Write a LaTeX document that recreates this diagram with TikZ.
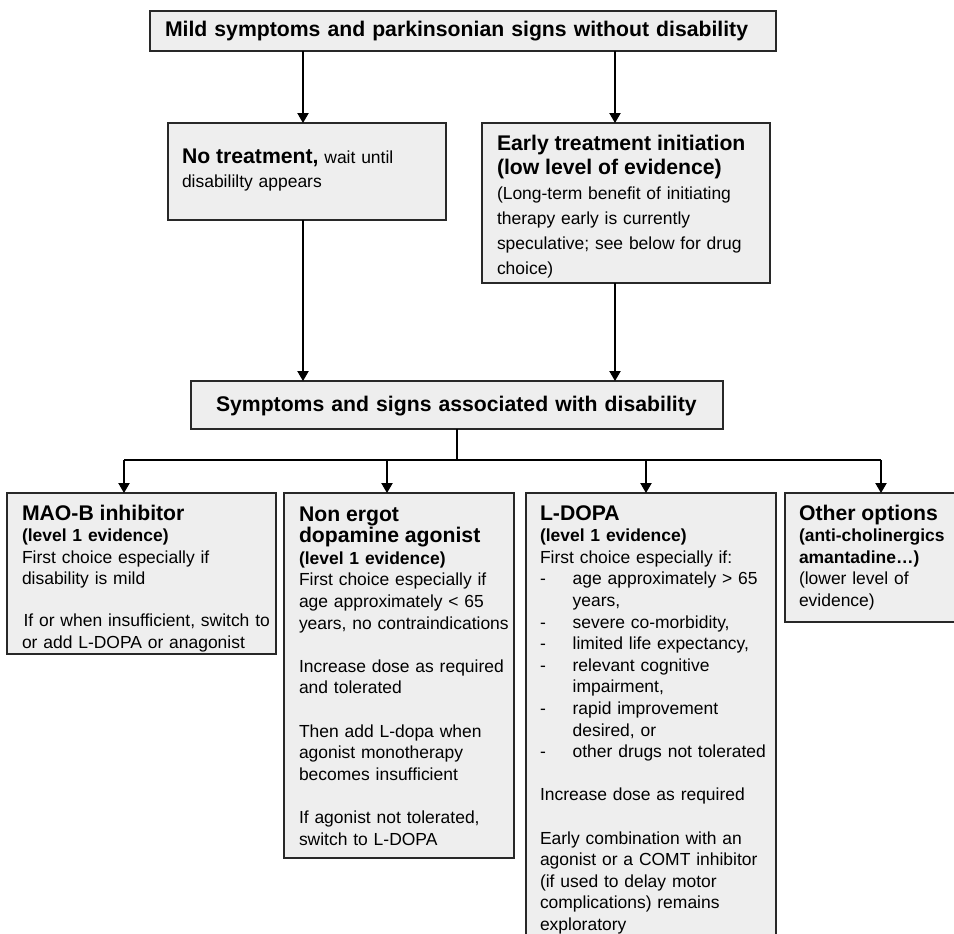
\documentclass[tikz,border=0pt]{standalone}
\usepackage{fontspec}
\setmainfont{Liberation Sans}
\usetikzlibrary{arrows.meta,fit}
\definecolor{boxfill}{RGB}{238,238,238}
\definecolor{boxline}{RGB}{40,40,40}
% heading type: bold, larger
\newcommand\hd{\fontsize{15.9pt}{16.2pt}\selectfont\bfseries}
% bulleted line and its continuation
\newcommand\itm[1]{\makebox[24.5pt][l]{-}#1}
\newcommand\cnt[1]{\hspace*{24.5pt}#1}
\begin{document}
\begin{tikzpicture}[x=0.75pt,y=-0.75pt,
  box/.style={rectangle,draw=boxline,fill=boxfill,line width=0.9pt,inner sep=0pt,outer sep=0pt},
  txt/.style={anchor=base west,inner sep=0pt,outer sep=0pt,align=left,text width=300pt,
              font=\fontsize{13.1pt}{16.2pt}\selectfont},
  wide/.style={font=\fontsize{13.1pt}{18.6pt}\selectfont},
  link/.style={line width=0.8pt,draw=black},
  arr/.style={link,-{Triangle[length=7.5pt,width=8.5pt]}}]
\useasboundingbox (0,0) rectangle (954,933);
\clip (0,0) rectangle (954,933);
\fill[white] (0,0) rectangle (954,933);

% ---- boxes ----
\node[box,fit={(150,11) (776,51)}] (mild) {};
\node[box,fit={(168,123) (446,220)}] (none) {};
\node[box,fit={(482,123) (770,283)}] (early) {};
\node[box,fit={(191,381) (723,429)}] (sympt) {};
\node[box,fit={(7,493) (276,654)}] (mao) {};
\node[box,fit={(284,493) (514,858)}] (ner) {};
\node[box,fit={(526,493) (776,960)}] (ldopa) {};
\node[box,fit={(785,493) (960,622)}] (oth) {};

% ---- texts ----
\node[txt,font=\hd,text width=620pt] (mildt) at (165,36)
  {Mild symptoms and parkinsonian signs without disability};

\node[txt,wide] (nonet) at (182,163)
  {{\hd No treatment,} wait until\\
   disabililty appears};

\node[txt,wide] (earlyt) at (497,150)
  {{\hd Early treatment initiation}\\
   {\hd (low level of evidence)}\\
   (Long-term benefit of initiating\\
   therapy early is currently\\
   speculative; see below for drug\\
   choice)};

\node[txt,font=\hd,text width=520pt] (somptt) at (216,411)
  {Symptoms and signs associated with disability};

\node[txt] (maot) at (22,520)
  {{\hd MAO-B inhibitor}\\
   \textbf{(level 1 evidence)}\\
   First choice especially if\\
   disability is mild\\[15.2pt]
   \hspace*{1.2pt}If or when insufficient, switch to\\
   or add L-DOPA or anagonist};

\node[txt] (nert) at (299,521)
  {{\hd Non ergot}\\
   {\hd dopamine agonist}\\
   \textbf{(level 1 evidence)}\\
   First choice especially if\\
   age approximately \textless{} 65\\
   years, no contraindications\\[16.2pt]
   Increase dose as required\\
   and tolerated\\[16.2pt]
   Then add L-dopa when\\
   agonist monotherapy\\
   becomes insufficient\\[16.2pt]
   If agonist not tolerated,\\
   switch to L-DOPA};

\node[txt] (ldopat) at (540,520)
  {{\hd L-DOPA}\\
   \textbf{(level 1 evidence)}\\
   First choice especially if:\\
   \itm{age approximately \textgreater{} 65}\\
   \cnt{years,}\\
   \itm{severe co-morbidity,}\\
   \itm{limited life expectancy,}\\
   \itm{relevant cognitive}\\
   \cnt{impairment,}\\
   \itm{rapid improvement}\\
   \cnt{desired, or}\\
   \itm{other drugs not tolerated}\\[16.2pt]
   Increase dose as required\\[16.2pt]
   Early combination with an\\
   agonist or a COMT inhibitor\\
   (if used to delay motor\\
   complications) remains\\
   exploratory};

\node[txt] (otht) at (799,520)
  {{\hd Other options}\\
   \textbf{(anti-cholinergics}\\
   \textbf{amantadine…)}\\
   (lower level of\\
   evidence)};

% ---- connectors ----
\coordinate (cl) at (303,0);
\coordinate (cr) at (615,0);
\draw[arr] (cl |- mild.south) -- (cl |- none.north);
\draw[arr] (cr |- mild.south) -- (cr |- early.north);
\draw[arr] (cl |- none.south) -- (cl |- sympt.north);
\draw[arr] (cr |- early.south) -- (cr |- sympt.north);

\coordinate (bus) at (457,460);
\coordinate (b1) at (124,460);
\coordinate (b2) at (387,460);
\coordinate (b3) at (646,460);
\coordinate (b4) at (881,460);
\draw[link] (bus |- sympt.south) -- (bus);
\draw[link] (b1) -- (b4);
\draw[arr] (b1) -- (b1 |- mao.north);
\draw[arr] (b2) -- (b2 |- ner.north);
\draw[arr] (b3) -- (b3 |- ldopa.north);
\draw[arr] (b4) -- (b4 |- oth.north);
\end{tikzpicture}
\end{document}
